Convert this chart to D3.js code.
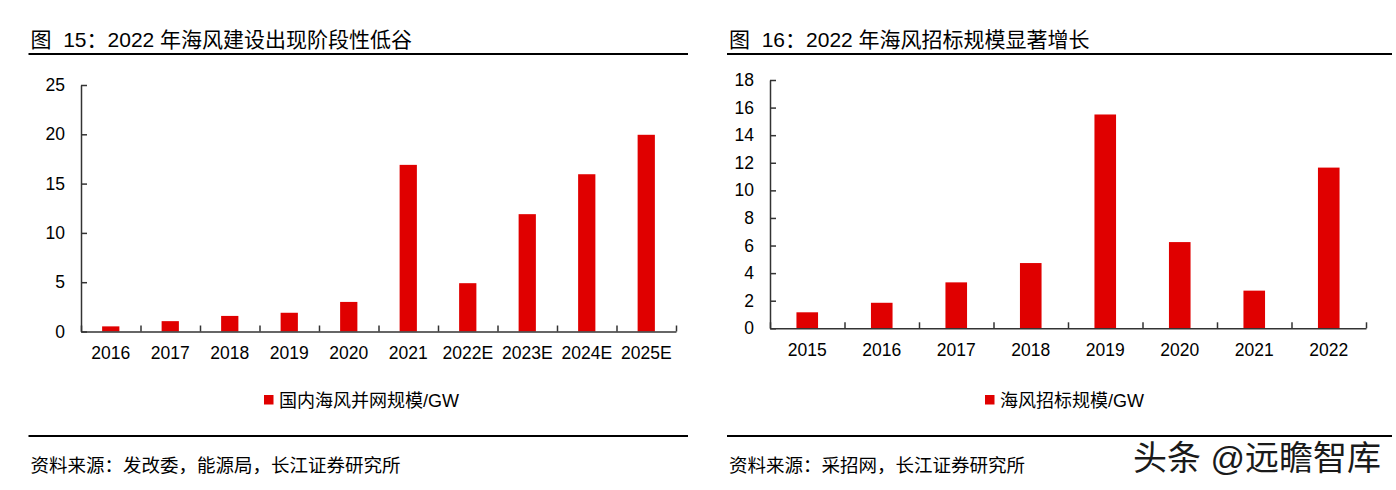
<!DOCTYPE html>
<html>
<head>
<meta charset="utf-8">
<script src="https://cdn.jsdelivr.net/npm/d3@7"></script>
<style>
  body { margin: 0; background: #fff; }
  svg text { font-family: "Liberation Sans", Arial, "Noto Sans CJK SC", sans-serif; fill: #000; }
</style>
</head>
<body>
<div id="chart"></div>
<script>
// left chart: grid-connected offshore wind (GW)
const gridYears = ["2016", "2017", "2018", "2019", "2020", "2021", "2022E", "2023E", "2024E", "2025E"];
const gridValues = [0.52, 1.05, 1.58, 1.9, 3.0, 16.9, 4.9, 11.9, 15.95, 19.95];
const gridTicks = [0, 5, 10, 15, 20, 25];

// right chart: offshore wind tenders (GW)
const tenderYears = ["2015", "2016", "2017", "2018", "2019", "2020", "2021", "2022"];
const tenderValues = [1.16, 1.85, 3.33, 4.73, 15.5, 6.25, 2.73, 11.65];
const tenderTicks = [0, 2, 4, 6, 8, 10, 12, 14, 16, 18];

const BAR_COLOR = "#e00000";
const AXIS_COLOR = "#333";

let svg = d3.select("#chart").append("svg").attr("width", 1396).attr("height", 490);

function drawChart(cfg) {
  let g = svg.append("g");

  // title + rule
  g.append("text").attr("x", cfg.lineX0 + 2).attr("y", 47)
   .style("font-size", "21px").style("white-space", "pre")
   .text(cfg.title);
  g.append("line").attr("x1", cfg.lineX0).attr("x2", cfg.lineX1)
   .attr("y1", 54).attr("y2", 54).attr("stroke", "#000").attr("stroke-width", 2);

  let x = d3.scaleBand().domain(cfg.cats).range([cfg.x0, cfg.x1])
            .paddingInner(0.71).paddingOuter(0.355);
  let y = d3.scaleLinear().domain([0, d3.max(cfg.ticks)]).range([cfg.yBottom, cfg.yTop]);
  let bounds = d3.scaleLinear().domain([0, cfg.cats.length]).range([cfg.x0, cfg.x1]);

  // bars
  g.selectAll("rect.bar").data(cfg.values).enter().append("rect")
   .attr("class", "bar")
   .attr("x", function(d, i) { return x(cfg.cats[i]); })
   .attr("width", x.bandwidth())
   .attr("y", function(d) { return y(d); })
   .attr("height", function(d) { return y(0) - y(d); })
   .attr("fill", BAR_COLOR);

  // y axis, ticks pointing inward
  let yAxis = g.append("g").attr("transform", "translate(" + cfg.x0 + ",0)")
    .call(d3.axisLeft(y).tickValues(cfg.ticks).tickSizeInner(-6).tickSizeOuter(0).tickPadding(16));
  yAxis.selectAll("text").style("font-size", "17.5px");

  // x axis: boundary ticks + domain
  let xTicks = g.append("g").attr("transform", "translate(0," + cfg.yBottom + ")")
    .call(d3.axisBottom(bounds).tickValues(d3.range(cfg.cats.length + 1))
      .tickSizeInner(-6).tickSizeOuter(0).tickFormat(""));
  // x labels
  let xLabels = g.append("g").attr("transform", "translate(0," + cfg.yBottom + ")")
    .call(d3.axisBottom(x).tickSize(0).tickPadding(15));
  xLabels.select(".domain").remove();
  xLabels.selectAll("text").style("font-size", "17.5px");

  [yAxis, xTicks].forEach(function(a) {
    a.selectAll("path, line").attr("stroke", AXIS_COLOR).attr("stroke-width", 1.5);
  });

  // legend
  g.append("rect").attr("x", cfg.legendX).attr("y", 395).attr("width", 9.5).attr("height", 9.5)
   .attr("fill", BAR_COLOR);
  g.append("text").attr("x", cfg.legendX + 15).attr("y", 407)
   .style("font-size", "18px").text(cfg.legend);

  // source rule + text
  g.append("line").attr("x1", cfg.lineX0).attr("x2", cfg.lineX1)
   .attr("y1", 436).attr("y2", 436).attr("stroke", "#000").attr("stroke-width", 2);
  g.append("text").attr("x", cfg.lineX0 + 2).attr("y", 472)
   .style("font-size", "18.5px").text(cfg.source);
}

drawChart({
  title: "图  15：2022 年海风建设出现阶段性低谷",
  cats: gridYears, values: gridValues, ticks: gridTicks,
  x0: 81, x1: 676, yTop: 85, yBottom: 331.5,
  lineX0: 28.5, lineX1: 688,
  legendX: 264, legend: "国内海风并网规模/GW",
  source: "资料来源：发改委，能源局，长江证券研究所"
});

drawChart({
  title: "图  16：2022 年海风招标规模显著增长",
  cats: tenderYears, values: tenderValues, ticks: tenderTicks,
  x0: 770, x1: 1366, yTop: 80, yBottom: 328.3,
  lineX0: 727, lineX1: 1392,
  legendX: 985, legend: "海风招标规模/GW",
  source: "资料来源：采招网，长江证券研究所"
});

// watermark
svg.append("text").attr("x", 1133).attr("y", 470)
   .style("font-size", "34px").style("fill", "#1a1a1a")
   .attr("stroke", "#fff").attr("stroke-width", 1)
   .style("paint-order", "stroke")
   .text("头条 @远瞻智库");
</script>
</body>
</html>
